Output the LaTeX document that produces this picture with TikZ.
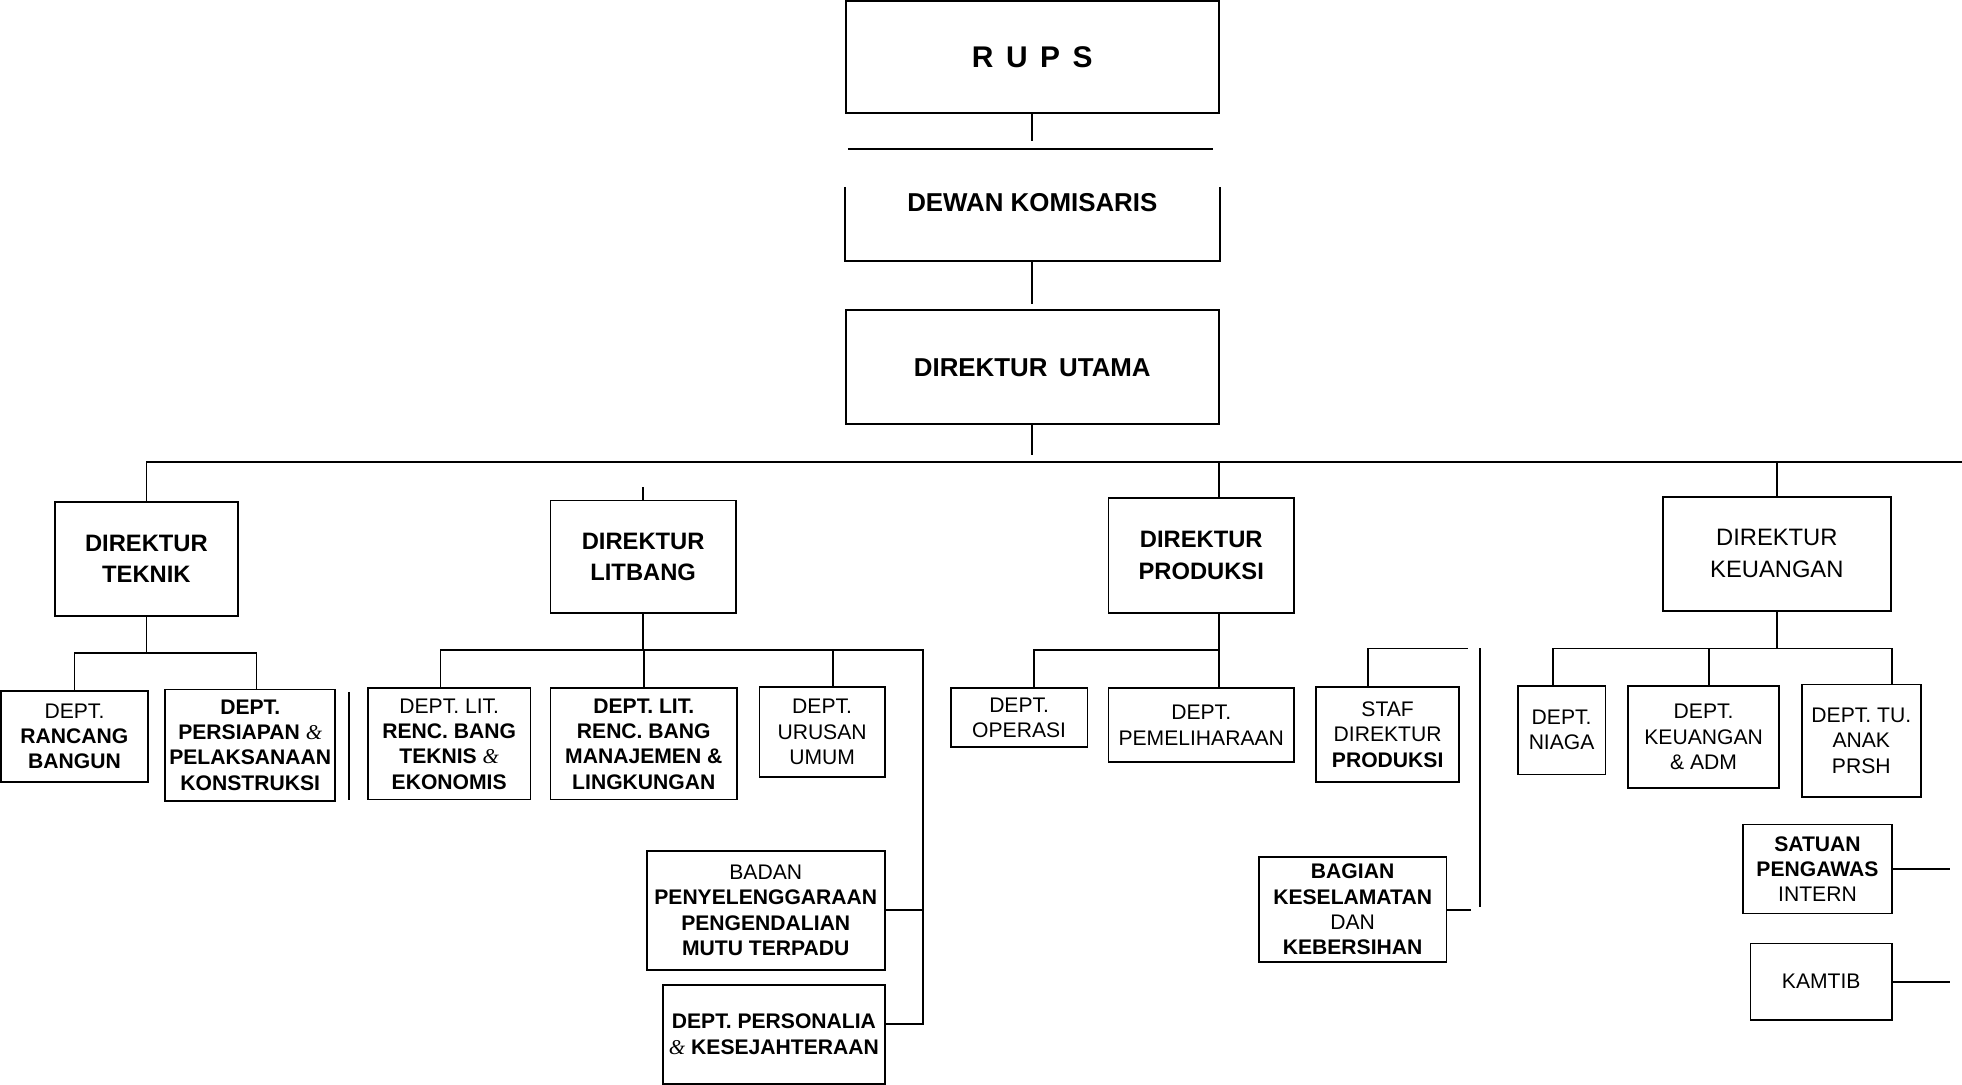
\documentclass[tikz,border=0pt]{standalone}
\usepackage{fontspec}
\setmainfont{Liberation Sans}
\newfontfamily\ampfont{Liberation Serif}
\newcommand{\amp}{{\ampfont\itshape\&}}

\begin{document}
\begin{tikzpicture}[x=0.025cm, y=-0.025cm, line width=1pt,
    box/.style={draw, inner sep=0pt, align=center},
    topbox/.style={box, font=\fontsize{14.7}{18}\selectfont\bfseries},
    dirbox/.style={box, font=\fontsize{13.5}{18}\selectfont\bfseries},
    deptbox/.style={box, font=\fontsize{12}{14.4}\selectfont}]
    \useasboundingbox (0,0) rectangle (1568,867);

    % Top of the chart
    \node[topbox, font=\fontsize{17}{20}\selectfont\bfseries, minimum width=7.45cm, minimum height=2.225cm] (rups) at (825,45.5) {R\hspace{0.42em}U\hspace{0.42em}P\hspace{0.42em}S};
    \node[topbox, draw=none, minimum width=7.45cm, minimum height=2.2cm] (dewan) at (825,164) {};
    \node[topbox, draw=none] (dewantext) at (825,162) {DEWAN KOMISARIS};
    \node[topbox, minimum width=7.45cm, minimum height=2.275cm] (utama) at (825,293.5) {DIREKTUR\hspace{0.45em}UTAMA};
    \coordinate (bus) at (1568,369);

    % Dewan box is open at the top, its top line sits above it
    \draw ([yshift=-0.75cm]dewan.north west) -- (dewan.south west) -- (dewan.south east) -- ([yshift=-0.75cm]dewan.north east);
    \draw ([xshift=0.06cm]dewan.north west) -- ([xshift=-0.125cm]dewan.north east);
    \draw[shorten >=0.16cm] (rups) -- (dewan);
    \draw[shorten >=0.1cm] (dewan) -- (utama);
    \draw[shorten >=0.13cm] (utama.south) -- (utama.south |- bus);

    % Directors
    \node[dirbox, minimum width=3.65cm, minimum height=2.275cm] (teknik) at (117,446.5) {DIREKTUR\\TEKNIK};
    \node[dirbox, minimum width=3.7cm, minimum height=2.25cm] (litbang) at (514,445) {DIREKTUR\\LITBANG};
    \node[dirbox, minimum width=3.7cm, minimum height=2.3cm] (produksi) at (960,444) {DIREKTUR\\PRODUKSI};
    \node[dirbox, font=\fontsize{13.5}{18}\selectfont\mdseries, minimum width=4.55cm, minimum height=2.275cm] (keuangan) at (1420,442.5) {DIREKTUR\\KEUANGAN};

    \draw (teknik.north) |- (bus);
    \draw (litbang.north) -- ++(0,-10);
    \draw ([xshift=0.35cm]produksi.north) |- (bus);
    \draw (keuangan.north) |- (bus);

    % Direktur Teknik
    \node[deptbox, minimum width=2.925cm, minimum height=1.825cm] (rancang) at (59.5,588.5) {DEPT.\\\textbf{RANCANG}\\\textbf{BANGUN}};
    \node[deptbox, minimum width=3.4cm, minimum height=2.225cm] (persiapan) at (200,595.5) {\textbf{DEPT.}\\\textbf{PERSIAPAN} \amp\\\textbf{PELAKSANAAN}\\\textbf{KONSTRUKSI}};
    \draw (279,553) -- (279,639);

    \draw (teknik.south) -- ++(0,29) coordinate (tkbar);
    \draw (rancang.north) |- (tkbar) -| ([xshift=0.125cm]persiapan.north);

    % Direktur Litbang
    \node[deptbox, minimum width=3.25cm, minimum height=2.225cm] (lit1) at (359,594.5) {DEPT. LIT.\\\textbf{RENC. BANG}\\\textbf{TEKNIS} \amp\\\textbf{EKONOMIS}};
    \node[deptbox, minimum width=3.725cm, minimum height=2.225cm] (lit2) at (514.5,594.5) {\textbf{DEPT. LIT.}\\\textbf{RENC. BANG}\\\textbf{MANAJEMEN \&}\\\textbf{LINGKUNGAN}};
    \node[deptbox, minimum width=2.5cm, minimum height=1.8cm] (urusan) at (657,585) {DEPT.\\URUSAN\\UMUM};
    \node[deptbox, minimum width=4.75cm, minimum height=2.375cm] (badan) at (612,727.5) {BADAN\\\textbf{PENYELENGGARAAN}\\\textbf{PENGENDALIAN}\\\textbf{MUTU TERPADU}};
    \node[deptbox, minimum width=4.425cm, minimum height=1.975cm] (personalia) at (618.5,826.5) {\textbf{DEPT. PERSONALIA}\\\amp\ \textbf{KESEJAHTERAAN}};

    \draw (litbang.south) -- ++(0,29) coordinate (lbbar);
    \draw ([xshift=-0.175cm]lit1.north) |- (lbbar);
    \draw (lit2.north) |- (lbbar);
    \draw ([xshift=0.225cm]urusan.north) |- (lbbar);
    \draw ([yshift=0.21cm]personalia.east) -- ++(30,0) |- (lbbar);
    \draw (badan.east) -- ++(30,0);

    % Direktur Produksi
    \node[deptbox, minimum width=2.725cm, minimum height=1.175cm] (operasi) at (814.5,573.5) {DEPT.\\OPERASI};
    \node[deptbox, minimum width=3.7cm, minimum height=1.475cm] (pemel) at (960,579.5) {DEPT.\\PEMELIHARAAN};
    \node[deptbox, minimum width=2.85cm, minimum height=1.9cm] (staf) at (1109,587) {STAF\\DIREKTUR\\\textbf{PRODUKSI}};
    \node[deptbox, minimum width=3.75cm, minimum height=2.1cm] (bagian) at (1081,727) {\textbf{BAGIAN}\\\textbf{KESELAMATAN}\\DAN\\\textbf{KEBERSIHAN}};

    \draw ([xshift=0.35cm]produksi.south) -- ++(0,29) coordinate (pdbar);
    \draw ([xshift=0.29cm]operasi.north) |- (pdbar);
    \draw ([xshift=0.35cm]pemel.north) |- (pdbar);
    \draw ([xshift=-0.4cm]staf.north) |- ++(80,-30) coordinate (pdend);
    \draw (bagian.east) -- ++(19,0);
    \draw (1183,518) -- (1183,725);

    % Direktur Keuangan
    \node[deptbox, minimum width=1.75cm, minimum height=1.775cm] (niaga) at (1248,583.5) {DEPT.\\NIAGA};
    \node[deptbox, minimum width=3.025cm, minimum height=2.05cm] (kadm) at (1361.5,589) {DEPT.\\KEUANGAN\\\& ADM};
    \node[deptbox, minimum width=2.375cm, minimum height=2.25cm] (tu) at (1487.5,592) {DEPT. TU.\\ANAK\\PRSH};
    \node[deptbox, minimum width=2.975cm, minimum height=1.775cm] (satuan) at (1452.5,694.5) {\textbf{SATUAN}\\\textbf{PENGAWAS}\\INTERN};
    \node[deptbox, minimum width=2.825cm, minimum height=1.525cm] (kamtib) at (1455.5,784.5) {KAMTIB};

    \draw (keuangan.south) -- ++(0,29.5) coordinate (kubar);
    \draw ([xshift=-0.175cm]niaga.north) |- (kubar);
    \draw ([xshift=0.11cm]kadm.north) |- (kubar);
    \draw ([xshift=0.61cm]tu.north) |- (kubar);
    \draw (satuan.east) -- ++(46,0);
    \draw (kamtib.east) -- ++(46,0);
\end{tikzpicture}
\end{document}
